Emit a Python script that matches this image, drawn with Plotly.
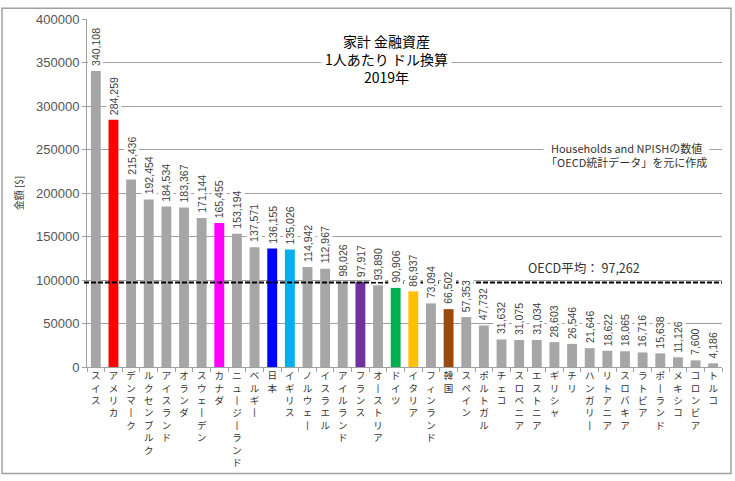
import plotly.graph_objects as go

countries = ["スイス", "アメリカ", "デンマーク", "ルクセンブルク", "アイスランド", "オランダ",
             "スウェーデン", "カナダ", "ニュージーランド", "ベルギー", "日本", "イギリス",
             "ノルウェー", "イスラエル", "アイルランド", "フランス", "オーストリア", "ドイツ",
             "イタリア", "フィンランド", "韓国", "スペイン", "ポルトガル", "チェコ",
             "スロベニア", "エストニア", "ギリシャ", "チリ", "ハンガリー", "リトアニア",
             "スロバキア", "ラトビア", "ポーランド", "メキシコ", "コロンビア", "トルコ"]
values = [340108, 284259, 215436, 192454, 184534, 183367,
          171144, 165455, 153194, 137571, 136155, 135026,
          114942, 112967, 98026, 97917, 93890, 90906,
          86937, 73094, 66502, 57353, 47732, 31632,
          31075, 31034, 28603, 26546, 21646, 18622,
          18065, 16716, 15638, 11126, 7600, 4186]
highlight = {"アメリカ": "#ff0000", "カナダ": "#ff00ff", "日本": "#0000ff",
             "イギリス": "#00b0f0", "フランス": "#7030a0", "ドイツ": "#00b050",
             "イタリア": "#ffc000", "韓国": "#9c4a0c"}
oecd_avg = 97262
y_ticks = [0, 50000, 100000, 150000, 200000, 250000, 300000, 350000, 400000]
title_lines = ["家計 金融資産", "1人あたり ドル換算", "2019年"]
note_lines = ["Households and NPISHの数値", "「OECD統計データ」を元に作成"]
avg_label = "OECD平均： 97,262"
y_title = "金額 [$]"

GREY = "#a6a6a6"
colors = [highlight.get(c, GREY) for c in countries]

def vertical(s):
    return "<br>".join(ch if ch != "ー" else "丨" for ch in s)

L, R, T, B = 87, 13, 12, 113
W, H = 735, 481
PW, PH = W - L - R, H - T - B

fig = go.Figure()
fig.add_trace(go.Bar(x=countries, y=values, marker=dict(color=colors, line=dict(width=0)),
                     width=0.56, hoverinfo="x+y"))

ann = []
for c, v in zip(countries, values):
    ann.append(dict(x=c, y=v, xref="x", yref="y", text=f"{v:,}", showarrow=False,
                    textangle=-90, yanchor="bottom", xanchor="center", yshift=3,
                    bgcolor="white", borderpad=1,
                    font=dict(family="Liberation Sans, Arial", size=10.5, color="#404040")))

ann.append(dict(x=(386 - L) / PW, y=(368 - 20) / PH, xref="paper", yref="paper",
                text="<br>".join(title_lines), showarrow=False, xanchor="center", yanchor="top",
                bgcolor="white", borderpad=3, align="center",
                font=dict(family="Noto Sans CJK JP", size=14, color="#000000")))
ann.append(dict(x=(710 - L) / PW, y=(368 - 133) / PH, xref="paper", yref="paper",
                text="<br>".join(note_lines), showarrow=False, xanchor="right", yanchor="top",
                bgcolor="white", borderpad=2, align="center",
                font=dict(family="Noto Sans CJK JP", size=11, color="#333333")))
ann.append(dict(x=(526 - L) / PW, y=oecd_avg, xref="paper", yref="y",
                text=avg_label, showarrow=False, xanchor="left", yanchor="bottom", yshift=3,
                font=dict(family="Noto Sans CJK JP", size=12.5, color="#333333")))
fig.update_layout(annotations=ann)

shapes = [
    dict(type="line", xref="paper", yref="y", x0=-3 / PW, x1=1.0, y0=oecd_avg, y1=oecd_avg,
         line=dict(color="#000000", width=2, dash="5px,2px")),
    dict(type="rect", xref="paper", yref="paper", x0=(2 - L) / PW, x1=(731 - L) / PW,
         y0=(368 - 477) / PH, y1=(368 - 1) / PH, line=dict(color="#a0a0a0", width=1.5),
         layer="below"),
]
fig.update_layout(shapes=shapes)

fig.update_layout(
    width=W, height=H,
    margin=dict(l=L, r=R, t=T, b=B, pad=0),
    paper_bgcolor="white", plot_bgcolor="white",
    showlegend=False,
    xaxis=dict(type="category", tickmode="array", tickvals=countries,
               ticktext=[vertical(c) for c in countries], tickangle=0,
               tickson="boundaries", ticks="outside", ticklen=4, tickcolor="#a0a0a0",
               showline=True, linecolor="#a0a0a0", linewidth=1, showgrid=False,
               tickfont=dict(family="Noto Sans CJK JP", size=9.5, color="#333333"),
               range=[-0.5, len(countries) - 0.5]),
    yaxis=dict(range=[0, 400000], tickmode="array", tickvals=y_ticks,
               ticktext=[str(t) for t in y_ticks],
               ticks="outside", ticklen=4, tickcolor="#a0a0a0",
               showline=True, linecolor="#a0a0a0", linewidth=1,
               showgrid=True, gridcolor="#a0a0a0", gridwidth=1, zeroline=False,
               tickfont=dict(family="Liberation Sans, Arial", size=13, color="#555555"),
               title=dict(text=y_title, standoff=10,
                          font=dict(family="Noto Sans CJK JP", size=10, color="#333333"))),
)

fig.write_html("out.html")
